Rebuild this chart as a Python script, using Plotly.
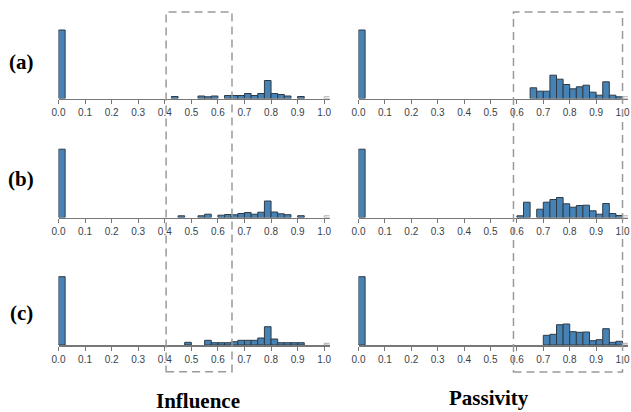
import plotly.graph_objects as go

# ---------------- data ----------------
bin_width = 0.025
tick_vals = [round(i * 0.1, 1) for i in range(11)]
tick_text = [f"{v:.1f}" for v in tick_vals]
row_labels = ["(a)", "(b)", "(c)"]
col_titles = ["Influence", "Passivity"]

infl_a_bins = [0.0, 0.425, 0.525, 0.55, 0.575, 0.625, 0.65, 0.675, 0.7, 0.725, 0.75, 0.775, 0.8, 0.825, 0.85, 0.9]
infl_a_vals = [68.5, 2.0, 2.5, 1.7, 2.5, 3.0, 3.0, 3.0, 5.0, 3.0, 5.0, 18.0, 5.0, 4.0, 2.5, 2.0]

pass_a_bins = [0.0, 0.65, 0.675, 0.7, 0.725, 0.75, 0.775, 0.8, 0.825, 0.85, 0.875, 0.9, 0.925, 0.95, 0.975]
pass_a_vals = [68.5, 10.7, 7.3, 7.3, 23.3, 19.3, 14.0, 9.7, 11.7, 13.3, 6.3, 3.3, 16.7, 3.3, 1.7]

infl_b_bins = [0.0, 0.45, 0.525, 0.55, 0.6, 0.625, 0.65, 0.675, 0.7, 0.725, 0.75, 0.775, 0.8, 0.825, 0.85, 0.9]
infl_b_vals = [68.3, 1.7, 1.7, 3.3, 2.3, 3.0, 2.7, 4.0, 5.0, 3.3, 5.3, 16.5, 5.5, 3.7, 2.8, 1.8]

pass_b_bins = [0.0, 0.6, 0.625, 0.675, 0.7, 0.725, 0.75, 0.775, 0.8, 0.825, 0.85, 0.875, 0.9, 0.925, 0.95, 0.975]
pass_b_vals = [68.3, 1.7, 15.3, 8.3, 15.3, 18.0, 20.0, 13.7, 10.3, 12.0, 12.3, 6.7, 3.3, 14.0, 4.0, 2.0]

infl_c_bins = [0.0, 0.475, 0.55, 0.575, 0.6, 0.625, 0.65, 0.675, 0.7, 0.725, 0.75, 0.775, 0.8, 0.825, 0.85, 0.875, 0.9]
infl_c_vals = [68.3, 2.7, 4.7, 2.3, 2.3, 2.3, 3.3, 4.7, 4.7, 4.7, 7.0, 18.3, 6.0, 2.3, 2.3, 2.3, 2.3]

pass_c_bins = [0.0, 0.7, 0.725, 0.75, 0.775, 0.8, 0.825, 0.85, 0.875, 0.9, 0.925, 0.95, 0.975]
pass_c_vals = [68.3, 9.7, 10.7, 20.3, 21.0, 13.3, 12.7, 13.0, 4.3, 5.3, 16.3, 2.7, 3.7]

# faint empty end-bin drawn at 1.0 in every panel
tail_bins = [1.0]
tail_vals = [1.7]

# highlighted ranges (dashed boxes)
infl_box = [0.405, 0.653]
pass_box = [0.587, 1.0]

panels = [
    [(infl_a_bins, infl_a_vals), (pass_a_bins, pass_a_vals)],
    [(infl_b_bins, infl_b_vals), (pass_b_bins, pass_b_vals)],
    [(infl_c_bins, infl_c_vals), (pass_c_bins, pass_c_vals)],
]

# ---------------- layout geometry ----------------
W, H = 631, 412
col_domains = [[58.5 / W, 329.5 / W], [358.5 / W, 627.8 / W]]
baselines = [98.5, 217.5, 345.0]
panel_h = 70.0
y_range = [0, 70]

fig = go.Figure()
layout = dict(
    width=W, height=H,
    margin=dict(l=0, r=0, t=0, b=0, pad=0),
    paper_bgcolor="white", plot_bgcolor="white",
    showlegend=False, bargap=0,
)

font_ticks = dict(family="Liberation Sans, Arial, sans-serif", size=10, color="#3a3f4a")

idx = 0
for r, row in enumerate(panels):
    for c, (bins, vals) in enumerate(row):
        idx += 1
        xa = "x" if idx == 1 else f"x{idx}"
        ya = "y" if idx == 1 else f"y{idx}"
        fig.add_trace(go.Bar(
            x=[b + bin_width / 2 for b in bins], y=vals,
            width=[bin_width] * len(bins),
            marker=dict(color="#4682b4", line=dict(color="#2f3b47", width=1)),
            xaxis=xa, yaxis=ya, hoverinfo="skip", cliponaxis=False,
        ))
        fig.add_trace(go.Bar(
            x=[b + bin_width / 2 for b in tail_bins], y=tail_vals,
            width=[bin_width] * len(tail_bins),
            marker=dict(color="white", line=dict(color="#aaaaaa", width=1)),
            xaxis=xa, yaxis=ya, hoverinfo="skip",
        ))
        base = baselines[r]
        xkey = "xaxis" if idx == 1 else f"xaxis{idx}"
        ykey = "yaxis" if idx == 1 else f"yaxis{idx}"
        layout[xkey] = dict(
            domain=col_domains[c], anchor=ya, range=[0, 1.02],
            tickvals=tick_vals, ticktext=tick_text,
            ticks="outside", ticklen=4, tickwidth=1, tickcolor="#777",
            showline=True, linecolor="#777", linewidth=1.5,
            showgrid=False, zeroline=False, tickfont=font_ticks, fixedrange=True,
            automargin=False,
        )
        layout[ykey] = dict(
            domain=[(H - base) / H, (H - base + panel_h) / H], anchor=xa,
            range=y_range, visible=False, showgrid=False, zeroline=False, fixedrange=True,
            automargin=False,
        )

fig.update_layout(**layout)

# dashed boxes
box_style = dict(color="#9a9a9a", width=1.5, dash="8px,5px")
fig.add_shape(type="rect", xref="x", yref="paper", x0=infl_box[0], x1=infl_box[1],
              y0=(H - 371.7) / H, y1=(H - 12) / H, line=box_style, fillcolor="rgba(0,0,0,0)")
fig.add_shape(type="rect", xref="x2", yref="paper", x0=pass_box[0], x1=pass_box[1],
              y0=(H - 372) / H, y1=(H - 12) / H, line=box_style, fillcolor="rgba(0,0,0,0)")

label_font = dict(family="Liberation Serif, Times New Roman, serif", size=21, color="black")
row_label_y = [61.7, 179.3, 313.3]
for lab, py in zip(row_labels, row_label_y):
    fig.add_annotation(text=f"<b>{lab}</b>", xref="paper", yref="paper",
                       x=21 / W, y=(H - py) / H, showarrow=False,
                       xanchor="center", yanchor="middle", font=label_font)

title_pos = [(198.3, 400.5), (489.3, 398.0)]
for t, (px, py) in zip(col_titles, title_pos):
    fig.add_annotation(text=f"<b>{t}</b>", xref="paper", yref="paper",
                       x=px / W, y=(H - py) / H, showarrow=False,
                       xanchor="center", yanchor="middle", font=label_font)

fig.write_html(
    "out.html",
    config={"displayModeBar": False, "staticPlot": True},
    post_script="document.body.style.margin='0';document.body.style.padding='0';"
                "document.documentElement.style.overflow='hidden';",
)
